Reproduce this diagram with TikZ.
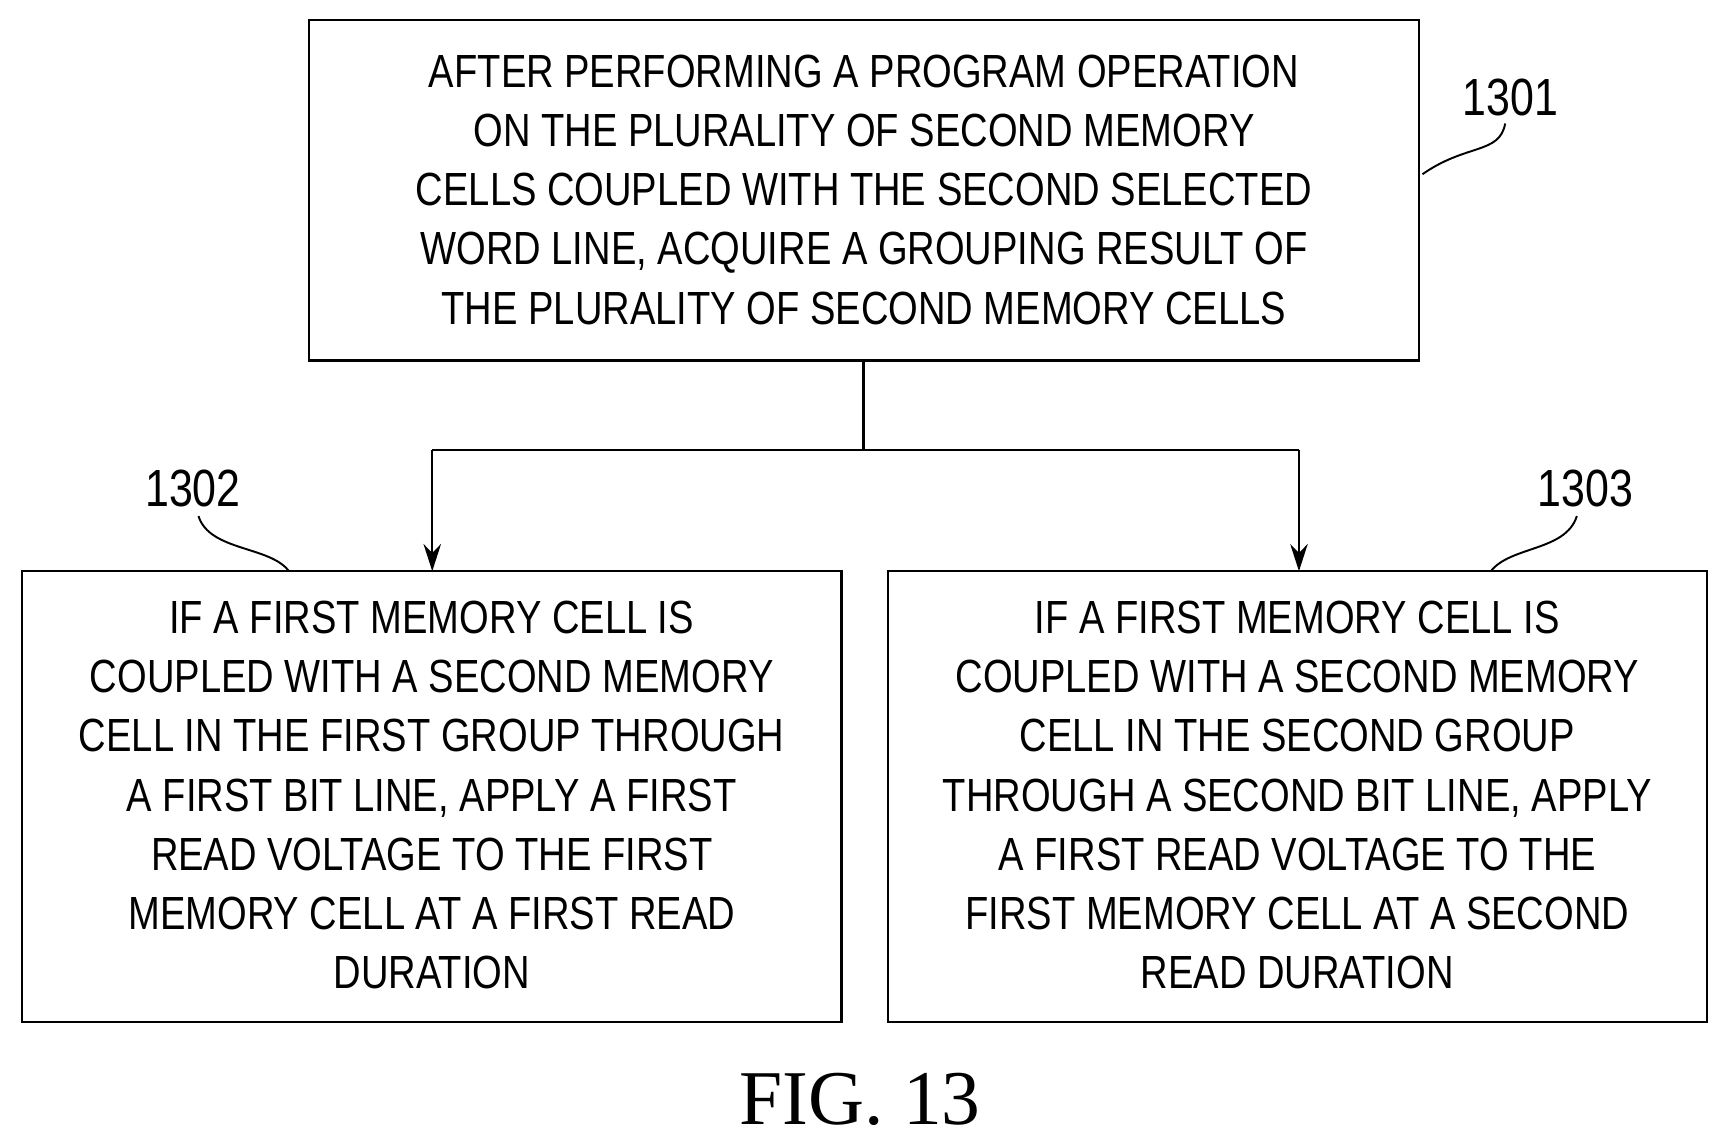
\documentclass[tikz,border=0pt]{standalone}
\usepackage{fontspec}
\setmainfont{Liberation Sans}
\newfontfamily\narrowf[FakeStretch=0.82]{Liberation Sans}
\newfontfamily\figf{Liberation Serif}
\usetikzlibrary{arrows.meta}
\begin{document}
\begin{tikzpicture}[x=0.02cm,y=-0.02cm,
  box/.style={draw,line width=1.2pt,inner sep=0pt},
  txt/.style={align=center,font=\narrowf\fontsize{24}{30.6}\selectfont},
  lbl/.style={font=\narrowf\fontsize{27}{30}\selectfont},
  arr/.style={line width=1.2pt,-{Stealth[length=14pt,width=9pt]}},
  lead/.style={line width=1pt}]
\useasboundingbox (0,0) rectangle (1568,1040);
\draw[box] (280,18) rectangle (1287,327);
\node[txt] (t1) at (783.5,172) {AFTER PERFORMING A PROGRAM OPERATION\\ON THE PLURALITY OF SECOND MEMORY\\CELLS COUPLED WITH THE SECOND SELECTED\\WORD LINE, ACQUIRE A GROUPING RESULT OF\\THE PLURALITY OF SECOND MEMORY CELLS};
\draw[box] (20,518) rectangle (763,927);
\node[txt] (t2) at (391.5,721) {IF A FIRST MEMORY CELL IS\\COUPLED WITH A SECOND MEMORY\\CELL IN THE FIRST GROUP THROUGH\\A FIRST BIT LINE, APPLY A FIRST\\READ VOLTAGE TO THE FIRST\\MEMORY CELL AT A FIRST READ\\DURATION};
\draw[box] (805,518) rectangle (1548,927);
\node[txt] (t3) at (1176.5,721) {IF A FIRST MEMORY CELL IS\\COUPLED WITH A SECOND MEMORY\\CELL IN THE SECOND GROUP\\THROUGH A SECOND BIT LINE, APPLY\\A FIRST READ VOLTAGE TO THE\\FIRST MEMORY CELL AT A SECOND\\READ DURATION};
\coordinate (a) at (783,327);
\coordinate (j) at (783,408);
\coordinate (l) at (392,408);
\coordinate (r) at (1178,408);
\coordinate (le) at (392,518);
\coordinate (re) at (1178,518);
\draw[line width=1.2pt] (a) -- (j);
\draw[line width=1.2pt] (l) -- (r);
\draw[arr] (l) -- (le);
\draw[arr] (r) -- (re);
\node[lbl] (n1) at (1370,88) {1301};
\node[lbl] (n2) at (175,443) {1302};
\node[lbl] (n3) at (1438,443) {1303};
\draw[lead] (1290,158) .. controls (1330,130) and (1360,140) .. (1365,112);
\draw[lead] (180,468) .. controls (190,500) and (245,495) .. (262,518);
\draw[lead] (1430,468) .. controls (1420,500) and (1370,495) .. (1352,518);
\node[font=\figf\fontsize{40}{40}\selectfont] (fig) at (780,997) {FIG. 13};
\end{tikzpicture}
\end{document}
